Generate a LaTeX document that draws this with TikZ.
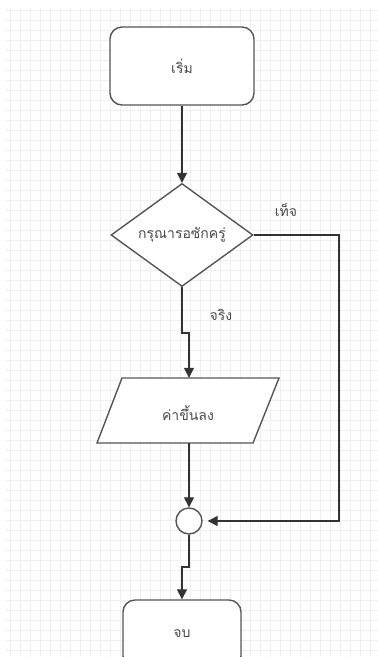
\documentclass[tikz,border=0pt]{standalone}
\usepackage{fontspec}
\newfontfamily\thaifont[Script=Thai]{Loma}
\usetikzlibrary{arrows.meta,shapes.geometric}
\definecolor{linec}{HTML}{333333}
\definecolor{shapec}{HTML}{555555}
\definecolor{txtc}{HTML}{4A4A4A}
\definecolor{gridc}{HTML}{EFEFEF}
\begin{document}
\begin{tikzpicture}[x=1pt,y=-1pt,
  every node/.style={font=\thaifont\fontsize{14}{16}\selectfont, text=txtc},
  boxst/.style={draw=shapec, line width=1.4pt, fill=white, rounded corners=12pt, minimum width=144pt, minimum height=78pt, inner sep=0pt},
  endst/.style={draw=shapec, line width=1.4pt, fill=white, rounded corners=12pt, minimum width=118pt, minimum height=68pt, inner sep=0pt},
  decst/.style={draw=shapec, line width=1.4pt, fill=white, diamond, aspect=1.37, minimum width=142pt, minimum height=103pt, inner sep=0pt},
  junst/.style={draw=shapec, line width=1.4pt, fill=white, circle, minimum size=26pt, inner sep=0pt},
  conn/.style={draw=linec, line width=1.3pt},
  arr/.style={conn, -{Triangle[length=10pt,width=10pt]}},
  lbl/.style={inner sep=1pt}
]
\useasboundingbox (0,0) rectangle (378,657);
\clip (0,0) rectangle (378,657);
\fill[white] (0,0) rectangle (378,657);
\draw[gridc, line width=0.5pt, step=10pt] (6,8) grid (378,657);

\node[boxst] (start) at (182,66) {เริ่ม};
\node[decst] (dia) at (182,235) {กรุณารอซักครู่};
\draw[draw=shapec, line width=1.4pt, fill=white] (122,378) -- (279,378) -- (253,443) -- (97,443) -- cycle;
\node[minimum width=157pt, minimum height=65pt, inner sep=0pt] (par) at (189,410.5) {};
\node at (188,413) {ค่าขึ้นลง};
\node[junst] (jn) at (189,521) {};
\node[endst] (end) at (182,634) {จบ};

\coordinate (f1) at (339,235);
\coordinate (t1) at (182,333);
\coordinate (e1) at (189,567);

\draw[arr] (start.south) -- (dia.north);
\draw[arr, shorten >=5pt] (dia.east) -- (f1) |- (jn.east);
\draw[arr] (dia.south) -- (t1) -| (par.north);
\draw[arr] (par.south) -- (jn.north);
\draw[arr] (jn.south) -- (e1) -| (end.north);

\node[lbl] (lf) at (286,210) {เท็จ};
\node[lbl] (lt) at (221,315) {จริง};
\end{tikzpicture}
\end{document}
